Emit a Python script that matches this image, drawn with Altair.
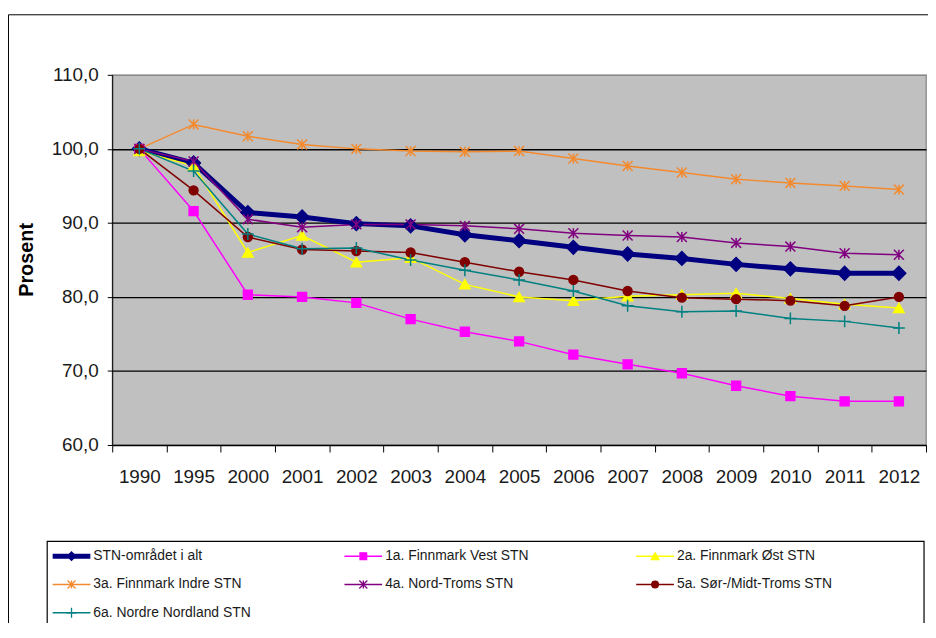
import altair as alt
import pandas as pd

years = ["1990", "1995", "2000", "2001", "2002", "2003", "2004", "2005",
         "2006", "2007", "2008", "2009", "2010", "2011", "2012"]

series_names = [
    "STN-området i alt",
    "1a. Finnmark Vest STN",
    "2a. Finnmark Øst STN",
    "3a. Finnmark Indre STN",
    "4a. Nord-Troms STN",
    "5a. Sør-/Midt-Troms STN",
    "6a. Nordre Nordland STN",
]

stn_total = [100.0, 98.1, 91.4, 90.8, 89.9, 89.6, 88.4, 87.6, 86.7, 85.8, 85.2, 84.4, 83.8, 83.2, 83.2]
finnmark_vest = [100.0, 91.6, 80.3, 80.0, 79.2, 77.0, 75.3, 74.0, 72.2, 70.9, 69.7, 68.0, 66.6, 65.9, 65.9]
finnmark_ost = [99.7, 97.7, 86.0, 88.3, 84.7, 85.3, 81.7, 80.0, 79.5, 80.1, 80.3, 80.5, 79.8, 79.0, 78.5]
finnmark_indre = [100.0, 103.3, 101.7, 100.6, 100.0, 99.7, 99.6, 99.7, 98.7, 97.7, 96.8, 95.9, 95.4, 95.0, 94.5]
nord_troms = [100.0, 98.3, 90.5, 89.4, 89.8, 89.8, 89.6, 89.2, 88.6, 88.3, 88.1, 87.3, 86.8, 85.9, 85.7]
sor_midt_troms = [100.0, 94.4, 88.1, 86.4, 86.2, 86.0, 84.7, 83.4, 82.3, 80.8, 79.9, 79.7, 79.5, 78.8, 80.0]
nordre_nordland = [100.0, 97.0, 88.5, 86.5, 86.6, 85.0, 83.6, 82.3, 80.8, 78.8, 78.0, 78.1, 77.1, 76.7, 75.8]

all_series = [stn_total, finnmark_vest, finnmark_ost, finnmark_indre,
              nord_troms, sor_midt_troms, nordre_nordland]

line_colors = ["#000080", "#FF00FF", "#FFFF00", "#F48A2E", "#800080", "#800000", "#008080"]
fill_colors = ["#000080", "#FF00FF", "#FFFF00", "transparent", "transparent", "#800000", "transparent"]
line_widths = [5, 1.5, 1.5, 1.5, 1.5, 1.5, 1.5]
star = "M-1,-1L1,1M-1,1L1,-1M0,-1L0,1"
plus = "M-1,0L1,0M0,-1L0,1"
shapes = ["diamond", "square", "triangle-up", star, star, "circle", plus]
sizes = [190, 80, 110, 100, 100, 80, 144]
legend_sizes = [70, 45, 60, 64, 64, 45, 100]

rows = []
for name, vals in zip(series_names, all_series):
    for yr, v in zip(years, vals):
        rows.append({"year": yr, "series": name, "value": v})
df = pd.DataFrame(rows)

legend_df = pd.DataFrame({
    "series": series_names,
    "col": [i % 3 for i in range(len(series_names))],
    "row": [i // 3 for i in range(len(series_names))],
})

FONT = "Liberation Sans"
W, H = 820, 373

color_scale = alt.Scale(type="ordinal", domain=series_names, range=line_colors)
fill_scale = alt.Scale(type="ordinal", domain=series_names, range=fill_colors)
shape_scale = alt.Scale(type="ordinal", domain=series_names, range=shapes)
size_scale = alt.Scale(type="ordinal", domain=series_names, range=sizes)
width_scale = alt.Scale(type="ordinal", domain=series_names, range=line_widths)

x_enc = alt.X("year:O", sort=years,
              scale=alt.Scale(type="band", paddingInner=0, paddingOuter=0),
              bandPosition=0.5,
              axis=alt.Axis(tickBand="extent", labelAngle=0, labelFont=FONT,
                            labelFontSize=19, labelColor="#1a1a1a", labelPadding=16,
                            tickSize=7, tickColor="black", domainColor="black",
                            grid=False, title=None))
y_enc = alt.Y("value:Q",
              scale=alt.Scale(domain=[60, 110], nice=False, zero=False),
              axis=alt.Axis(values=[60, 70, 80, 90, 100, 110],
                            labelExpr="replace(format(datum.value, '.1f'), '.', ',')",
                            labelFont=FONT, labelFontSize=19, labelColor="#1a1a1a",
                            labelPadding=9, tickSize=5, tickColor="black",
                            domainColor="black", grid=True,
                            gridColor=alt.condition("datum.value == 110",
                                                    alt.value("#8a8a8a"),
                                                    alt.value("black")),
                            gridWidth=1.3,
                            title="Prosent", titleFont=FONT, titleFontSize=20,
                            titleFontWeight="bold", titleColor="black",
                            titleX=-86, titleY=186, titleAngle=270,
                            titleAlign="center", titleBaseline="middle"))

base = alt.Chart(df)

lines = base.mark_line().encode(
    x=x_enc, y=y_enc,
    color=alt.Color("series:N", scale=color_scale, legend=None),
    strokeWidth=alt.StrokeWidth("series:N", scale=width_scale, legend=None),
    detail="series:N",
)

points = base.mark_point(opacity=1, strokeWidth=1.5).encode(
    x=x_enc, y=y_enc,
    stroke=alt.Stroke("series:N", scale=color_scale, legend=None),
    fill=alt.Fill("series:N", scale=fill_scale, legend=None),
    shape=alt.Shape("series:N", scale=shape_scale, legend=None),
    size=alt.Size("series:N", scale=size_scale, legend=None),
)

one = pd.DataFrame({"k": [0]})
frame = alt.Chart(one).mark_rect(fill="transparent", stroke="black", strokeWidth=1).encode(
    x=alt.value(-104.5), x2=alt.value(840), y=alt.value(-60.5), y2=alt.value(600)
)
legend_box = alt.Chart(one).mark_rect(fill="white", stroke="black", strokeWidth=1.2).encode(
    x=alt.value(-65.5), x2=alt.value(818), y=alt.value(470), y2=alt.value(600)
)

plot_part = alt.layer(frame, legend_box, lines, points)

lx = alt.X("col:Q", scale=alt.Scale(domain=[0, 2], range=[-41, 547]), axis=None)
ly = alt.Y("row:Q", scale=alt.Scale(domain=[0, 2], range=[485, 542]), axis=None)

leg = alt.Chart(legend_df)
leg_lines = leg.mark_point(shape="stroke", size=1444, opacity=1).encode(
    x=lx, y=ly,
    color=alt.Color("series:N", scale=color_scale, legend=None),
    strokeWidth=alt.StrokeWidth("series:N", scale=width_scale, legend=None),
)
leg_marks = leg.mark_point(opacity=1, strokeWidth=1.3).encode(
    x=lx, y=ly,
    stroke=alt.Stroke("series:N", scale=color_scale, legend=None),
    fill=alt.Fill("series:N", scale=fill_scale, legend=None),
    shape=alt.Shape("series:N", scale=shape_scale, legend=None),
    size=alt.Size("series:N", scale=alt.Scale(type="ordinal", domain=series_names,
                                               range=legend_sizes), legend=None),
)
leg_text = leg.mark_text(align="left", baseline="middle", dx=22, font=FONT,
                         fontSize=14, color="#1a1a1a").encode(
    x=lx, y=ly, text="series:N"
)
legend_part = alt.layer(leg_lines, leg_marks, leg_text)

chart = alt.layer(plot_part, legend_part).resolve_scale(
    x="independent", y="independent", size="independent"
).properties(
    width=W, height=H,
    autosize=alt.AutoSizeParams(type="none"),
    padding={"left": 105, "top": 65, "right": 2, "bottom": 177},
    background="white",
).configure_view(fill="#C0C0C0", stroke="#8a8a8a", strokeWidth=1.3)

chart.save("out.html", embed_options={"renderer": "svg", "actions": False})
